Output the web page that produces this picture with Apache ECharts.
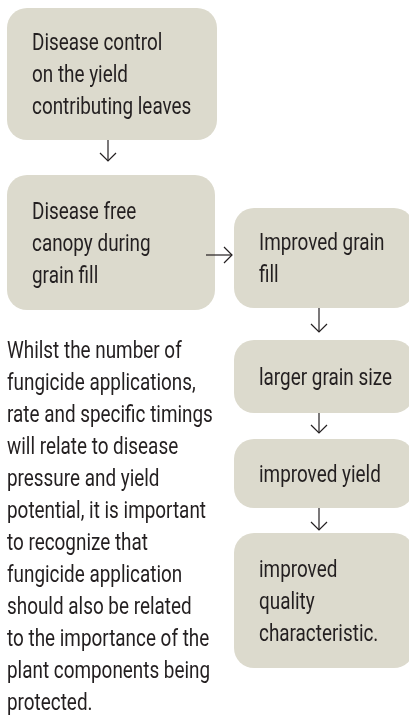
<!DOCTYPE html>
<html>
<head>
<meta charset="utf-8">
<script src="https://cdn.jsdelivr.net/npm/echarts@6/dist/echarts.min.js"></script>
<style>
html, body { margin: 0; padding: 0; background: #fff; }
#main { width: 409px; height: 718px; }
</style>
</head>
<body>
<div id="main"></div>
<script>
// flow steps (box extents, in page units)
var boxText = [
    'Disease control\non the yield\ncontributing leaves',
    'Disease free\ncanopy during\ngrain fill',
    'Improved grain\nfill',
    'larger grain size',
    'improved yield',
    'improved\nquality\ncharacteristic.'
];
var boxLeft = [7, 7, 234, 234, 234, 234];
var boxRight = [217, 215, 414, 414, 414, 414];
var boxTop = [8, 175, 208, 340, 439, 533];
var boxBottom = [140, 310, 308, 413, 508, 668];

// arrows between steps
var arrowStart = [[108, 140], [206, 255], [319, 308], [319, 413], [319, 508]];
var arrowEnd = [[108, 161], [232, 255], [319, 332], [319, 433], [319, 530]];

var noteText = 'Whilst the number of\nfungicide applications,\nrate and specific timings\nwill relate to disease\npressure and yield\npotential, it is important\nto recognize that\nfungicide application\nshould also be related\nto the importance of the\nplant components being\nprotected.';

var FONT = 'Roboto, sans-serif';
var FONT_SIZE = 24;
var INK = '#231f20';

// condensed look: squeeze a regular face to the measured line width
var ctx = document.createElement('canvas').getContext('2d');
ctx.font = FONT_SIZE + 'px ' + FONT;
var SQUEEZE = 199 / ctx.measureText('potential, it is important').width;

var myChart = echarts.init(document.getElementById('main'));

var boxData = [];
for (var i = 0; i < boxText.length; i++) {
    boxData.push([boxLeft[i], boxTop[i], boxRight[i], boxBottom[i]]);
}
var arrowData = [];
for (var j = 0; j < arrowStart.length; j++) {
    arrowData.push([arrowStart[j][0], arrowStart[j][1], arrowEnd[j][0], arrowEnd[j][1]]);
}

function textStyle(str) {
    return {
        text: str,
        fontFamily: FONT,
        fontSize: FONT_SIZE,
        lineHeight: 32,
        fill: INK,
        align: 'left'
    };
}

function renderBox(params, api) {
    var p0 = api.coord([api.value(0), api.value(1)]);
    var p1 = api.coord([api.value(2), api.value(3)]);
    var st = textStyle(boxText[params.dataIndex]);
    st.verticalAlign = 'middle';
    return {
        type: 'group',
        children: [{
            type: 'rect',
            shape: { x: p0[0], y: p0[1], width: p1[0] - p0[0], height: p1[1] - p0[1], r: 20 },
            style: { fill: '#dcdacd' }
        }, {
            type: 'text',
            x: p0[0] + 25,
            y: (p0[1] + p1[1]) / 2 + 2,
            scaleX: SQUEEZE,
            style: st
        }]
    };
}

function renderArrow(params, api) {
    var a = api.coord([api.value(0), api.value(1)]);
    var b = api.coord([api.value(2), api.value(3)]);
    var dx = b[0] - a[0], dy = b[1] - a[1];
    var len = Math.sqrt(dx * dx + dy * dy);
    var ux = dx / len, uy = dy / len;
    var h = 8;
    return {
        type: 'group',
        children: [{
            type: 'line',
            shape: { x1: a[0], y1: a[1], x2: b[0], y2: b[1] },
            style: { stroke: INK, lineWidth: 1.2 }
        }, {
            type: 'polyline',
            shape: { points: [
                [b[0] - ux * h - uy * h, b[1] - uy * h + ux * h],
                [b[0], b[1]],
                [b[0] - ux * h + uy * h, b[1] - uy * h - ux * h]
            ] },
            style: { stroke: INK, lineWidth: 1.2, fill: null }
        }]
    };
}

option = {
    animation: false,
    grid: { left: 0, right: 0, top: 0, bottom: 0 },
    xAxis: { type: 'value', min: 0, max: 409, show: false },
    yAxis: { type: 'value', min: 0, max: 718, inverse: true, show: false },
    graphic: [{
        type: 'text',
        x: 7,
        y: 336,
        scaleX: SQUEEZE,
        style: textStyle(noteText)
    }],
    series: [{
        type: 'custom',
        renderItem: renderBox,
        data: boxData,
        silent: true
    }, {
        type: 'custom',
        renderItem: renderArrow,
        data: arrowData,
        silent: true
    }]
};

myChart.setOption(option);
</script>
</body>
</html>
